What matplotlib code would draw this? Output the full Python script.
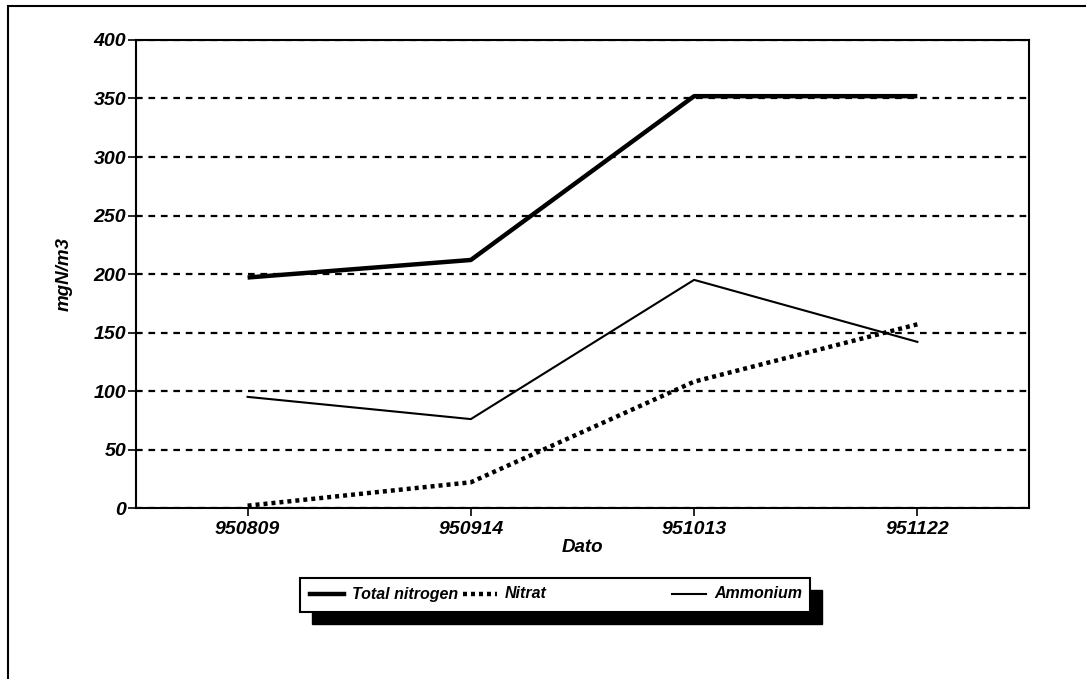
import matplotlib.pyplot as plt
from matplotlib.lines import Line2D
from matplotlib.patches import Rectangle

plt.rcParams['font.family'] = ['Liberation Sans', 'DejaVu Sans']

dates = ['950809', '950914', '951013', '951122']
total_n = [197, 212, 352, 352]
nitrat = [2, 22, 108, 157]
ammonium = [95, 76, 195, 142]
names = ['Total nitrogen', 'Nitrat', 'Ammonium']

fig = plt.figure(figsize=(10.86, 6.79), dpi=100)
ax = fig.add_axes([0.1252, 0.2518, 0.8223, 0.6893])

# outer frame (left + top edge, rest runs off the page)
fig.patches.append(Rectangle((8/1086, -0.1), 1.5, 1 - 6/679 + 0.1, transform=fig.transFigure,
                             fill=False, ec='black', lw=1.5))

x = range(len(dates))
ax.plot(x, total_n, color='black', lw=3.2, solid_capstyle='butt')
ax.plot(x, nitrat, color='black', lw=3.2, linestyle=(0, (0.9, 0.9)))
ax.plot(x, ammonium, color='black', lw=1.5)

ax.set_xlim(-0.5, 3.5)
ax.set_ylim(0, 400)
ax.set_yticks(range(0, 401, 50))
ax.set_xticks(list(x))
ax.set_xticklabels(dates)
ax.yaxis.grid(True, color='black', linestyle=(0, (3, 2.6)), lw=1.6)
for sp in ax.spines.values():
    sp.set_linewidth(1.5)

tfont = dict(fontsize=13.5, fontweight='bold', fontstyle='italic')
for lab in ax.get_yticklabels() + ax.get_xticklabels():
    lab.set_fontsize(14)
    lab.set_fontweight('bold')
    lab.set_fontstyle('italic')
ax.tick_params(axis='y', direction='out', length=6, width=1.2, pad=1)
ax.tick_params(axis='x', direction='out', length=6, width=1.2, pad=3)
ax.set_xlabel('Dato', labelpad=1, **tfont)
ax.set_ylabel('mgN/m3', labelpad=15, **tfont)

# legend with drop shadow
bx, by, bw, bh = 300/1086, 1 - 612/679, 510/1086, 34/679
fig.patches.append(Rectangle((bx + 12/1086, by - 12/679), bw, bh, transform=fig.transFigure,
                             fc='black', ec='black', zorder=1))
fig.patches.append(Rectangle((bx, by), bw, bh, transform=fig.transFigure,
                             fc='white', ec='black', lw=1.5, zorder=2))
styles = [dict(lw=3.2), dict(lw=3.2, linestyle=(0, (0.9, 0.9))), dict(lw=1.5)]
hx = [310, 463, 672]
yc = 1 - 594/679
for i in range(3):
    fig.lines.append(Line2D([hx[i]/1086, (hx[i] + 34)/1086], [yc, yc], transform=fig.transFigure,
                            color='black', zorder=3, **styles[i]))
    fig.text((hx[i] + 42)/1086, yc, names[i], va='center', ha='left', zorder=3,
             fontsize=11.5, fontweight='bold', fontstyle='italic')

fig.savefig('out.png', dpi=100)
